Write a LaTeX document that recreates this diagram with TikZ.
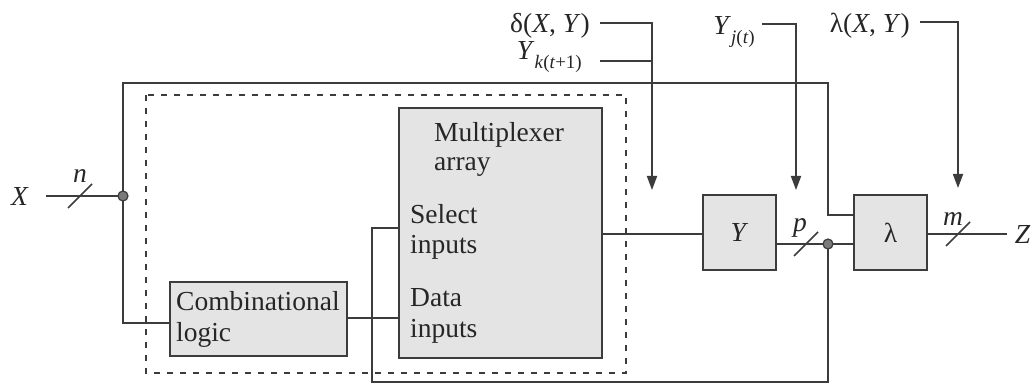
\documentclass[tikz,border=0pt]{standalone}
\usepackage{fontspec}
\setmainfont{Liberation Serif}
\usetikzlibrary{arrows.meta,calc}
\definecolor{lc}{HTML}{3C3C3C}
\definecolor{bf}{HTML}{E4E4E4}
\definecolor{df}{HTML}{7A7A7A}
\newcommand{\mysubsc}[1]{\raisebox{-0.32em}{\fontsize{19}{19}\selectfont #1}}
\begin{document}
\begin{tikzpicture}[x=1pt,y=-1pt,
  every node/.style={font=\fontsize{27.5}{32}\selectfont, text=black!85},
  lbl/.style={inner sep=0pt},
  box/.style={draw=lc, fill=bf, line width=2pt, inner sep=0pt},
  wire/.style={draw=lc, line width=1.8pt},
  arr/.style={wire, -{Triangle[width=10pt,length=14pt]}},
  slashline/.style={draw=lc, line width=1.5pt},
  jdot/.style={circle, draw=lc, fill=df, line width=1.2pt, minimum size=10pt, inner sep=0pt},
  dbox/.style={draw=lc, line width=1.6pt, dash pattern=on 6pt off 7pt}]
\useasboundingbox (0,0) rectangle (1031,385);

% dashed enclosure
\draw[dbox] (146,95) rectangle (626,373);

% boxes
\node[box, minimum width=203pt, minimum height=250pt] (mux) at (500.5,233) {};
\node[box, minimum width=177pt, minimum height=74pt] (comb) at (258.5,319) {};
\node[box, minimum width=73pt, minimum height=75pt] (yb) at (739.5,232.5) {\textit{Y}};
\node[box, minimum width=73pt, minimum height=75pt] (lb) at (890.5,232.5) {λ};

% box texts
\node[lbl, anchor=base west] (m1) at (434,142) {Multiplexer};
\node[lbl, anchor=base west] (m2) at (434,171) {array};
\node[lbl, anchor=base west] (m3) at (410,223) {Select};
\node[lbl, anchor=base west] (m4) at (410,253) {inputs};
\node[lbl, anchor=base west] (m5) at (410,306) {Data};
\node[lbl, anchor=base west] (m6) at (410,337) {inputs};
\node[lbl, anchor=base west] (c1) at (176,310) {Combinational};
\node[lbl, anchor=base west] (c2) at (176,341) {logic};

% input X
\node[lbl] (X) at (20,196) {\textit{X}};
\coordinate (xin) at (46,196);
\coordinate (jx) at (123,196);
\coordinate (ns) at (80,196);
\node[lbl] (n) at (80,176) {\textit{n}};
\draw[wire] (xin) -- (jx);
\draw[slashline] ($(ns)+(-12,12)$) -- ($(ns)+(12,-12)$);

% top bus to lambda
\coordinate (tw) at (828,83);
\coordinate (lamin) at (lb.west |- 0,215);
\draw[wire] (jx) |- (tw) |- (lamin);

% junction to combinational logic
\draw[wire] (jx) |- (comb.west |- 0,323);
\draw[wire] (comb.east |- 0,318) -- (mux.west |- 0,318);

% mux to Y
\draw[wire] (mux.east |- 0,234) -- (yb.west |- 0,234);

% Y to lambda, feedback
\coordinate (dt) at (828,244);
\coordinate (ps) at (806,244);
\coordinate (fbl) at (372,382);
\draw[wire] (yb.east |- dt) -- (dt) -- (lb.west |- dt);
\draw[wire] (dt) |- (fbl) |- (mux.west |- 0,228);
\draw[slashline] ($(ps)+(-12,12)$) -- ($(ps)+(12,-12)$);
\node[lbl] (p) at (800,228) {\textit{p}};

% lambda output
\coordinate (zend) at (1007,234);
\coordinate (msl) at (958,234);
\node[lbl, anchor=east] (Z) at (1030.5,234) {\textit{Z}};
\draw[wire] (lb.east |- zend) -- (zend);
\draw[slashline] ($(msl)+(-12,12)$) -- ($(msl)+(12,-12)$);
\node[lbl] (m) at (953,219) {\textit{m}};

% top inputs
\node[lbl, anchor=base east] (d) at (590,33) {δ(\textit{X}, \textit{Y})};
\coordinate (d1) at (600,23);
\coordinate (d2) at (652,190);
\draw[arr] (d1) -| (d2);
\node[lbl, anchor=base east] (yk) at (582,60) {\textit{Y}\mysubsc{\textit{k}(\textit{t}+1)}};
\coordinate (k1) at (600,61);
\coordinate (k2) at (652,61);
\draw[wire] (k1) -- (k2);

\node[lbl, anchor=base east] (yj) at (755,35) {\textit{Y}\mysubsc{\textit{j}(\textit{t})}};
\coordinate (j1) at (762,24);
\coordinate (j2) at (796,190);
\draw[arr] (j1) -| (j2);

\node[lbl, anchor=base east] (lx) at (910,33) {λ(\textit{X}, \textit{Y})};
\coordinate (l1) at (920,22);
\coordinate (l2) at (958,188);
\draw[arr] (l1) -| (l2);

\node[jdot] (dotx) at (jx) {};
\node[jdot] (doty) at (dt) {};
\end{tikzpicture}
\end{document}
